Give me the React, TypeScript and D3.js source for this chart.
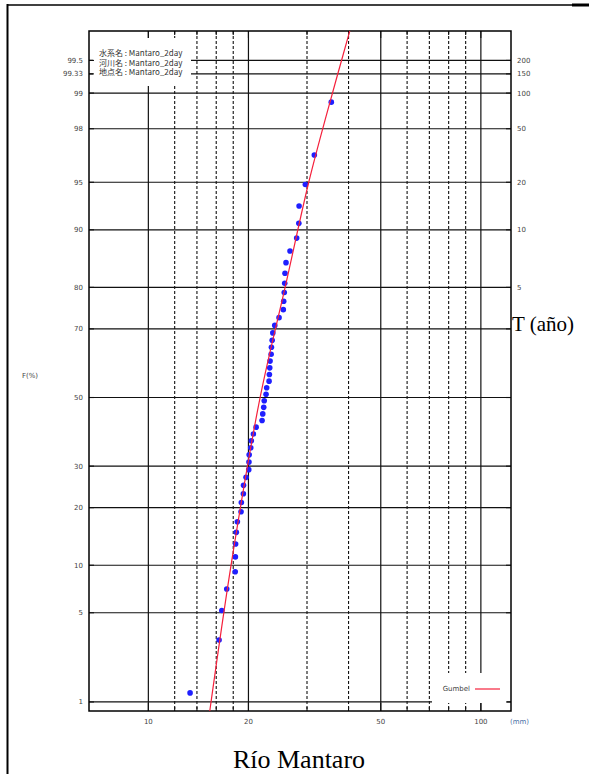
import React, { useEffect, useRef } from "react";
import * as d3 from "d3";

// non-exceedance probability F (%) of the horizontal grid lines
const probTicks = [1, 5, 10, 20, 30, 50, 70, 80, 90, 95, 98, 99, 99.33, 99.5];
const probLabels = ["1", "5", "10", "20", "30", "50", "70", "80", "90", "95", "98", "99", "99.33", "99.5"];
// return period T (años) on the right
const returnProbs = [80, 90, 95, 98, 99, 99.33, 99.5];
const returnLabels = ["5", "10", "20", "50", "100", "150", "200"];
// rainfall grid (mm)
const majorRain = [10, 20, 50, 100];
const minorRain = [12, 14, 16, 18, 30, 40, 60, 70, 80, 90];

// observed 2-day maxima (mm) and their plotting position F (%)
const rainObs = [
  13.35, 16.32, 16.63, 17.21, 18.25, 18.27, 18.3, 18.39, 18.52, 19.0,
  19.04, 19.31, 19.33, 19.67, 20.04, 20.07, 20.1, 20.32, 20.4, 20.7,
  21.09, 21.98, 22.08, 22.23, 22.31, 22.59, 22.69, 23.07, 23.12, 23.18,
  23.23, 23.4, 23.45, 23.57, 23.68, 24.0, 24.72, 25.46, 25.53, 25.63,
  25.71, 25.76, 25.94, 26.67, 27.93, 28.35, 28.4, 29.66, 31.56, 35.5
];
const probObs = [
  1.2, 3.19, 5.18, 7.17, 9.16, 11.16, 13.15, 15.14, 17.13, 19.12,
  21.12, 23.11, 25.1, 27.09, 29.08, 31.08, 33.07, 35.06, 37.05, 39.04,
  41.04, 43.03, 45.02, 47.01, 49.0, 51.0, 52.99, 54.98, 56.97, 58.96,
  60.96, 62.95, 64.94, 66.93, 68.92, 70.92, 72.91, 74.9, 76.89, 78.88,
  80.88, 82.87, 84.86, 86.85, 88.84, 90.84, 92.83, 94.82, 96.81, 98.8
];

// Gumbel fit
const fitRain = [15.3, 17.8, 21.7, 25.8, 30.3, 34.2, 40.4];
const fitProb = [0.83, 10.5, 50.2, 80.1, 94.9, 98.4, 99.75];

const legendLines = [
  "水系名 : Mantaro_2day",
  "河川名 : Mantaro_2day",
  "地点名 : Mantaro_2day"
];

// inverse standard normal (Acklam)
function probit(p) {
  const a = [-39.69683028665376, 220.9460984245205, -275.9285104469687, 138.357751867269, -30.66479806614716, 2.506628277459239];
  const b = [-54.47609879822406, 161.5858368580409, -155.6989798598866, 66.80131188771972, -13.28068155288572];
  const c = [-0.007784894002430293, -0.3223964580411365, -2.400758277161838, -2.549732539343734, 4.374664141464968, 2.938163982698783];
  const d = [0.007784695709041462, 0.3224671290700398, 2.445134137142996, 3.754408661907416];
  const pl = 0.02425;
  if (p < pl) {
    const q = Math.sqrt(-2 * Math.log(p));
    return (((((c[0] * q + c[1]) * q + c[2]) * q + c[3]) * q + c[4]) * q + c[5]) /
      ((((d[0] * q + d[1]) * q + d[2]) * q + d[3]) * q + 1);
  }
  if (p <= 1 - pl) {
    const q = p - 0.5;
    const r = q * q;
    return (((((a[0] * r + a[1]) * r + a[2]) * r + a[3]) * r + a[4]) * r + a[5]) * q /
      (((((b[0] * r + b[1]) * r + b[2]) * r + b[3]) * r + b[4]) * r + 1);
  }
  const q = Math.sqrt(-2 * Math.log(1 - p));
  return -(((((c[0] * q + c[1]) * q + c[2]) * q + c[3]) * q + c[4]) * q + c[5]) /
    ((((d[0] * q + d[1]) * q + d[2]) * q + d[3]) * q + 1);
}

const W = 589;
const H = 774;

export default function App() {
  const ref = useRef(null);

  useEffect(() => {
    const svg = d3.select(ref.current);
    const m = { left: 89, right: 511, top: 31, bottom: 711 };

    const x = d3.scaleLog().domain([6.63, 123.2]).range([m.left, m.right]);
    const z = d3.scaleLinear().domain([probit(0.0083), probit(0.99745)]).range([m.bottom, m.top]);
    const y = f => z(probit(f / 100));

    const sans = "'DejaVu Sans', Arial, sans-serif";
    const serif = "'Liberation Serif', 'Times New Roman', serif";

    // outer table frame
    svg.append("line").attr("x1", 7.5).attr("x2", 7.5).attr("y1", 4).attr("y2", H)
      .attr("stroke", "#000").attr("stroke-width", 2);
    svg.append("line").attr("x1", 7).attr("x2", W).attr("y1", 5).attr("y2", 5)
      .attr("stroke", "#000").attr("stroke-width", 1.5);
    svg.append("line").attr("x1", 572).attr("x2", W).attr("y1", 5).attr("y2", 5)
      .attr("stroke", "#000").attr("stroke-width", 3);

    const grid = svg.append("g");

    grid.selectAll(".hgrid").data(probTicks).join("line")
      .attr("x1", m.left).attr("x2", m.right)
      .attr("y1", d => y(d)).attr("y2", d => y(d))
      .attr("stroke", "#111").attr("stroke-width", 1.2);

    grid.selectAll(".vmajor").data(majorRain).join("line")
      .attr("x1", d => x(d)).attr("x2", d => x(d))
      .attr("y1", m.top).attr("y2", m.bottom)
      .attr("stroke", "#111").attr("stroke-width", 1.2);

    grid.selectAll(".vminor").data(minorRain).join("line")
      .attr("x1", d => x(d)).attr("x2", d => x(d))
      .attr("y1", m.top).attr("y2", m.bottom)
      .attr("stroke", "#111").attr("stroke-width", 1.1)
      .attr("stroke-dasharray", "3,2");

    // legend boxes hide the grid
    svg.append("rect").attr("x", 93).attr("y", 38).attr("width", 98).attr("height", 48).attr("fill", "#fff");
    svg.append("rect").attr("x", 432).attr("y", 673).attr("width", 75).attr("height", 30).attr("fill", "#fff");

    // ticks
    const ticks = svg.append("g").attr("stroke", "#111").attr("stroke-width", 1.1);
    ticks.selectAll(".tl").data(probTicks).join("line")
      .attr("x1", m.left).attr("x2", m.left + 5)
      .attr("y1", d => y(d)).attr("y2", d => y(d));
    ticks.selectAll(".tr").data(probTicks).join("line")
      .attr("x1", m.right - 5).attr("x2", m.right)
      .attr("y1", d => y(d)).attr("y2", d => y(d));
    ticks.selectAll(".tt").data(majorRain.concat(minorRain)).join("line")
      .attr("x1", d => x(d)).attr("x2", d => x(d))
      .attr("y1", m.top).attr("y2", d => m.top + (majorRain.includes(d) ? 7 : 4));
    ticks.selectAll(".tb").data(majorRain.concat(minorRain)).join("line")
      .attr("x1", d => x(d)).attr("x2", d => x(d))
      .attr("y1", m.bottom).attr("y2", d => m.bottom - (majorRain.includes(d) ? 8 : 4));

    svg.append("rect")
      .attr("x", m.left).attr("y", m.top)
      .attr("width", m.right - m.left).attr("height", m.bottom - m.top)
      .attr("fill", "none").attr("stroke", "#000").attr("stroke-width", 1.5);

    // axis labels
    svg.append("g").selectAll("text").data(probTicks).join("text")
      .attr("x", m.left - 6).attr("y", d => y(d)).attr("dy", "0.35em")
      .attr("text-anchor", "end").attr("font-family", sans).attr("font-size", 7)
      .attr("fill", "#444").text((d, i) => probLabels[i]);

    svg.append("g").selectAll("text").data(returnProbs).join("text")
      .attr("x", m.right + 6).attr("y", d => y(d)).attr("dy", "0.35em")
      .attr("font-family", sans).attr("font-size", 7).attr("fill", "#444")
      .text((d, i) => returnLabels[i]);

    svg.append("g").selectAll("text").data(majorRain).join("text")
      .attr("x", d => x(d)).attr("y", 724).attr("text-anchor", "middle")
      .attr("font-family", sans).attr("font-size", 7).attr("fill", "#444")
      .text(d => d);

    svg.append("text").attr("x", 510).attr("y", 724)
      .attr("font-family", sans).attr("font-size", 7).attr("fill", "#4a6fa5")
      .text("(mm)");

    svg.append("text").attr("x", 30).attr("y", 378).attr("text-anchor", "middle")
      .attr("font-family", sans).attr("font-size", 7).attr("fill", "#444")
      .text("F(%)");

    // top-left legend
    svg.append("g").selectAll("text").data(legendLines).join("text")
      .attr("x", 99).attr("y", (d, i) => 56 + i * 9.5)
      .attr("font-family", "'Noto Sans CJK JP', 'DejaVu Sans', sans-serif")
      .attr("font-size", 8).attr("fill", "#333")
      .text(d => d);

    // observations
    svg.append("g").selectAll("circle").data(rainObs).join("circle")
      .attr("cx", d => x(d)).attr("cy", (d, i) => y(probObs[i]))
      .attr("r", 2.8).attr("fill", "#1f1fff");

    // Gumbel fit
    svg.append("clipPath").attr("id", "plot-clip").append("rect")
      .attr("x", m.left).attr("y", m.top)
      .attr("width", m.right - m.left).attr("height", m.bottom - m.top);

    const line = d3.line()
      .x(d => x(d[0]))
      .y(d => y(d[1]))
      .curve(d3.curveCatmullRom);

    svg.append("path")
      .datum(fitRain.map((r, i) => [r, fitProb[i]]))
      .attr("d", line)
      .attr("clip-path", "url(#plot-clip)")
      .attr("fill", "none").attr("stroke", "#f5203c").attr("stroke-width", 1.2);

    // bottom-right legend
    svg.append("text").attr("x", 470).attr("y", 689).attr("dy", "0.35em")
      .attr("text-anchor", "end").attr("font-family", sans).attr("font-size", 7)
      .attr("fill", "#444").text("Gumbel");
    svg.append("line").attr("x1", 475).attr("x2", 500).attr("y1", 689).attr("y2", 689)
      .attr("stroke", "#f5203c").attr("stroke-width", 1.2);

    // annotations
    svg.append("text").attr("x", 512).attr("y", 331)
      .attr("font-family", serif).attr("font-size", 21).attr("fill", "#000")
      .text("T (año)");
    svg.append("text").attr("x", 299).attr("y", 768).attr("text-anchor", "middle")
      .attr("font-family", serif).attr("font-size", 26).attr("fill", "#000")
      .text("Río Mantaro");

    return () => {
      svg.html("");
    };
  }, []);

  return (
    <svg
      ref={ref}
      width={W}
      height={H}
      style={{ position: "absolute", left: 0, top: 0, background: "#fff" }}
    />
  );
}
